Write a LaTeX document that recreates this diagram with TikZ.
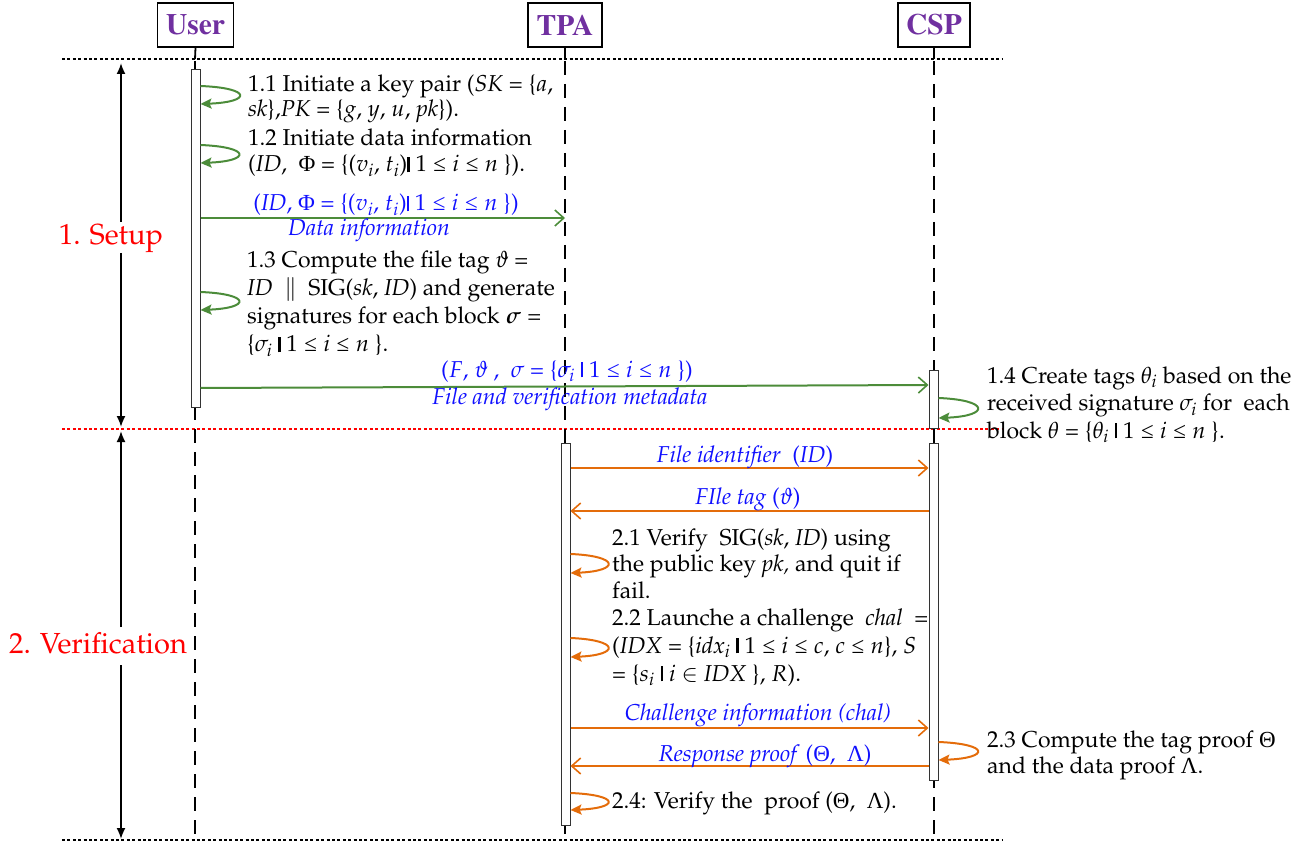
\documentclass[tikz,border=0pt]{standalone}
\usepackage[no-math]{fontspec}
\usepackage[T1]{fontenc}
\usepackage{mathpazo}
\usepackage{bm}
\usetikzlibrary{arrows.meta}

\newfontfamily\relfont{Liberation Serif}

\definecolor{hdrpurple}{HTML}{7030A0}
\definecolor{msggreen}{HTML}{4C8C3A}
\definecolor{msgorange}{HTML}{E46C0A}
\definecolor{lblblue}{HTML}{1010FF}

% thick separator bar used in set notation
\newcommand\vbarsep{\rule[-0.02em]{0.11em}{0.68em}}
% less-or-equal relation and upright capital Greek from the serif text font
\newcommand\leqs{\mathrel{\hbox{\relfont ≤}}}
\newcommand\GPhi{{\relfont Φ}}
\newcommand\GTheta{{\relfont Θ}}
\newcommand\GLambda{{\relfont Λ}}
% multi-line step text, first line's baseline is the reference point
\newcommand\steplines[2]{\fontsize{23}{#1}\selectfont\begin{tabular}[t]{@{}l@{}}#2\end{tabular}}

\tikzset{
  hdr/.style={draw, line width=1.6pt, minimum height=44pt, inner sep=0pt,
    text=hdrpurple, font=\fontsize{29.5}{30}\usefont{T1}{ptm}{b}{n}},
  life/.style={line width=1.8pt, dash pattern=on 14pt off 9pt},
  sepline/.style={line width=1.3pt, dash pattern=on 3pt off 2.4pt},
  actbar/.style={draw=black!80, line width=1pt, fill=white, minimum width=9pt, inner sep=0pt},
  gmsg/.style={draw=msggreen, line width=2pt, -{Straight Barb[length=9pt,width=16pt,line width=1.6pt]}},
  omsg/.style={draw=msgorange, line width=2pt, -{Straight Barb[length=9pt,width=16pt,line width=1.6pt]}},
  gloop/.style={draw=msggreen, line width=2pt, -{Stealth[length=11pt,width=10pt,inset=2pt]}},
  oloop/.style={draw=msgorange, line width=2pt, -{Stealth[length=11pt,width=10pt,inset=2pt]}},
  txt/.style={anchor=base west, inner sep=0pt},
  lbl/.style={anchor=base, inner sep=0pt, text=lblblue, font=\fontsize{23}{25}\selectfont},
  phase/.style={anchor=base, inner sep=0pt, text=red, font=\fontsize{29}{30}\selectfont},
  span/.style={line width=1.8pt, -{Latex[length=11pt,width=9pt]}},
}

\begin{document}
\begin{tikzpicture}[x=1pt, y=-1pt]
\useasboundingbox (0,0) rectangle (1315,845);

% participants
\node[hdr, minimum width=76pt] (user) at (195.5,25) {User};
\node[hdr, minimum width=74pt] (tpa)  at (565,25) {TPA};
\node[hdr, minimum width=72pt] (csp)  at (934,25) {CSP};

% phase separators
\coordinate (topL) at (62,59);   \coordinate (topR) at (1003,59);
\coordinate (midL) at (62,429);  \coordinate (midR) at (1003,429);
\coordinate (botL) at (62,840);  \coordinate (botR) at (1003,840);
\draw[sepline] (topL) -- (topR);
\draw[sepline, red] (midL) -- (midR);
\draw[sepline] (botL) -- (botR);

% lifelines
\foreach \p/\x in {user/195, tpa/565, csp/934}{
  \draw[line width=1.8pt] (\p.south) -- (\x,59);
  \draw[life] (\x,61) -- (\x,840);
}

% activation bars
\node[actbar, minimum height=337pt] (ubar)  at (195.5,238.5) {};
\node[actbar, minimum height=58pt]  (cbar1) at (933.5,399) {};
\node[actbar, minimum height=382pt] (tbar)  at (565.5,634) {};
\node[actbar, minimum height=337pt] (cbar2) at (933.5,611.5) {};

% phase spans
\node[phase] (setup) at (111,245) {1. Setup};
\node[phase] (verif) at (98,653) {2. Verification};
\coordinate (s1a) at (121,222); \coordinate (s1t) at (121,63);
\coordinate (s1b) at (121,253); \coordinate (s1e) at (121,427);
\coordinate (s2a) at (121,627); \coordinate (s2t) at (121,431);
\coordinate (s2b) at (121,665); \coordinate (s2e) at (121,839);
\draw[span] (s1a) -- (s1t);
\draw[span] (s1b) -- (s1e);
\draw[span] (s2a) -- (s2t);
\draw[span] (s2b) -- (s2e);

% ---- setup phase ----
\draw[gloop] (ubar.east |- 0,86) .. controls (252,88) and (252,102) .. (ubar.east |- 0,104);
\node[txt] (t11) at (248,92) {\steplines{25}{1.1 Initiate a key pair (\textit{SK} = \{$a$,\\
  \textit{sk}\},\textit{PK} = \{$g$, $y$, $u$, \textit{pk}\}).}};

\draw[gloop] (ubar.east |- 0,145) .. controls (251,147) and (251,161) .. (ubar.east |- 0,163);
\node[txt] (t12) at (248,146) {\steplines{26}{1.2 Initiate data information\\
  (\textit{ID},\ \ \GPhi{} = \{($v_i$, $t_i$)\vbarsep\ $1\leqs i\leqs n$ \}).}};

\draw[gmsg] (ubar.east |- 0,218) -- (tpa.center |- 0,218);
\node[lbl] (l1a) at (386,211) {(\textit{ID}, \GPhi{} = \{($v_i$, $t_i$)\vbarsep\ $1\leqs i\leqs n$ \})};
\node[lbl] (l1b) at (369,236) {\textit{Data information}};

\draw[gloop] (ubar.east |- 0,292) .. controls (251,294) and (251,308) .. (ubar.east |- 0,310);
\node[txt] (t13) at (247,268) {\steplines{28}{1.3 Compute the file tag $\vartheta$ =\\
  \textit{ID}\ \ $\parallel$\ \ SIG(\textit{sk}, \textit{ID}) and generate\\
  signatures for each block $\bm{\sigma}$ =\\
  \{$\sigma_i$ \vbarsep\ $1\leqs i\leqs n$ \}.}};

\draw[gmsg] (ubar.east |- 0,388) -- (cbar1.west |- 0,385);
\node[lbl] (l2a) at (567,377) {($F$, $\vartheta$ ,\ \ $\sigma$ = \{$\sigma_i$ \vbarsep\ $1\leqs i\leqs n$ \})};
\node[lbl] (l2b) at (570,404) {\textit{File and verification metadata}};

\draw[gloop] (cbar1.east |- 0,398) .. controls (990,400) and (990,416) .. (cbar1.east |- 0,418);
\node[txt] (t14) at (987,383) {\steplines{27.5}{1.4 Create tags $\theta_i$ based on the\\
  received signature $\sigma_i$ for\ \ each\\
  block $\theta$ = \{$\theta_i$ \vbarsep\ $1\leqs i\leqs n$ \}.}};

% ---- verification phase ----
\draw[omsg] (tbar.east |- 0,468) -- (cbar2.west |- 0,468);
\node[lbl] (l3) at (745,462) {\textit{File identifier}\ \ (\textit{ID})};
\draw[omsg] (cbar2.west |- 0,511) -- (tbar.east |- 0,511);
\node[lbl] (l4) at (748,504) {\textit{FIle tag} ($\vartheta$)};

\draw[oloop] (tbar.east |- 0,554) .. controls (620,556) and (620,571) .. (tbar.east |- 0,573);
\node[txt] (t21) at (612,545) {\steplines{26.5}{2.1 Verify\ \ SIG(\textit{sk}, \textit{ID}) using\\
  the public key \textit{pk,} and quit if\\
  fail.}};

\draw[oloop] (tbar.east |- 0,638) .. controls (620,640) and (620,655) .. (tbar.east |- 0,657);
\node[txt] (t22) at (612,625) {\steplines{28}{2.2 Launche a challenge\ \ \textit{chal}\ \ =\\
  (\textit{IDX} = \{\textit{idx}$_i$ \vbarsep\ $1\leqs i\leqs c$, $c\leqs n$\}, $S$\\
  = \{$s_i$ \vbarsep\ $i$ $\in$ \textit{IDX} \}, $R$).}};

\draw[omsg] (tbar.east |- 0,728) -- (cbar2.west |- 0,728);
\node[lbl] (l5) at (758,720) {\textit{Challenge information (chal)}};
\draw[omsg] (cbar2.west |- 0,766) -- (tbar.east |- 0,766);
\node[lbl] (l6) at (765,761) {\textit{Response proof} (\GTheta,\ \ \GLambda)};

\draw[oloop] (cbar2.east |- 0,742) .. controls (990,744) and (990,758) .. (cbar2.east |- 0,760);
\node[txt] (t23) at (987,747) {\steplines{26}{2.3 Compute the tag proof \GTheta\\
  and the data proof \GLambda.}};

\draw[oloop] (tbar.east |- 0,793) .. controls (620,795) and (620,808) .. (tbar.east |- 0,810);
\node[txt] (t24) at (612,808) {\steplines{26}{2.4: Verify the\ \ proof (\GTheta,\ \ \GLambda).}};

\end{tikzpicture}
\end{document}
